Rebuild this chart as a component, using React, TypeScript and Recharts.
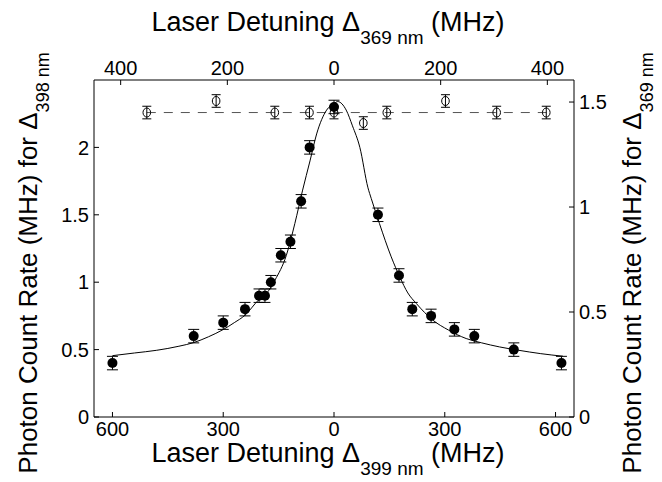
import React from 'react';
import { ComposedChart, Line, Scatter, XAxis, YAxis, ErrorBar } from 'recharts';

// ---- data ----
// fitted curve, bottom axis (Δ399 nm, MHz) vs left axis (MHz)
const fitX = [-600, -540, -480, -420, -380, -340, -300, -270, -241, -205, -183, -160, -129, -106, -85, -65, -47, -20, 0, 10, 33, 50, 70, 92, 101, 123, 155, 178, 200, 223, 268, 310, 358, 400, 448, 500, 560, 620];
const fitY = [0.455, 0.475, 0.495, 0.525, 0.552, 0.595, 0.649, 0.7, 0.755, 0.866, 0.916, 1.015, 1.2, 1.436, 1.683, 1.9, 2.1, 2.277, 2.325, 2.34, 2.277, 2.16, 2.0, 1.7, 1.62, 1.436, 1.188, 1.04, 0.92, 0.842, 0.718, 0.645, 0.582, 0.55, 0.52, 0.495, 0.47, 0.451];

// filled points (Δ398 nm scan)
const filledX = [-600, -380, -300, -241, -203, -187, -171, -144, -118, -89, -66, 0, 119, 176, 212, 263, 326, 380, 487, 616];
const filledY = [0.4, 0.6, 0.7, 0.8, 0.9, 0.9, 1.0, 1.2, 1.3, 1.6, 2.0, 2.3, 1.5, 1.05, 0.8, 0.75, 0.65, 0.6, 0.5, 0.4];
const filledErr = 0.05;

// open points (Δ369 nm scan), top axis vs right axis
const openX = [-351, -221, -111, -46, 0, 55, 99, 209, 305, 398];
const openY = [1.45, 1.505, 1.45, 1.45, 1.45, 1.4, 1.45, 1.505, 1.45, 1.45];
const openErr = 0.03;

// dashed mean line for open points
const meanX = [-351, 398];
const meanY = [1.45, 1.45];

const bottomTicks = [-600, -300, 0, 300, 600];
const topTicks = [-400, -200, 0, 200, 400];
const leftTicks = [0, 0.5, 1, 1.5, 2];
const rightTicks = [0, 0.5, 1, 1.5];

// ---- layout ----
const W = 662;
const H = 482;
const M = { top: 20, right: 20, bottom: 15, left: 20 };
const LEFT_W = 74;
const RIGHT_W = 68;
const TOP_H = 60;
const BOTTOM_H = 50;
const PL = M.left + LEFT_W;
const PR = W - M.right - RIGHT_W;
const PB = H - M.bottom - BOTTOM_H;
const PCX = (PL + PR) / 2;

const FONT = '"Liberation Sans", Arial, Helvetica, sans-serif';
const TITLE_SIZE = 27;
const SUB_SIZE = 19;
const SUB_DY = 13;
const VTITLE_SIZE = 26;
const VSUB_SIZE = 18;

const fitData = fitX.map((x, i) => ({ x, y: fitY[i] }));
const filledData = filledX.map((x, i) => ({ x, y: filledY[i], err: filledErr }));
const openData = openX.map((x, i) => ({ x, y: openY[i], err: openErr }));
const meanData = meanX.map((x, i) => ({ x, y: meanY[i] }));

const abs = (v: number) => String(Math.abs(v));

const tickStyle = { fontFamily: FONT, fontSize: 20, fill: '#000' };

function HTitle(props: any) {
  const { ty, sub } = props;
  return (
    <text x={PCX - 6} y={ty} textAnchor="middle" fontFamily={FONT} fontSize={TITLE_SIZE} fill="#000">
      <tspan>Laser Detuning Δ</tspan>
      <tspan fontSize={SUB_SIZE} dy={SUB_DY}>{sub}</tspan>
      <tspan dy={-SUB_DY}> (MHz)</tspan>
    </text>
  );
}

function VTitle(props: any) {
  const { tx, cy, sub } = props;
  return (
    <text transform={`translate(${tx}, ${cy}) rotate(-90)`} textAnchor="middle" fontFamily={FONT} fontSize={VTITLE_SIZE} fill="#000">
      <tspan>Photon Count Rate (MHz) for Δ</tspan>
      <tspan fontSize={VSUB_SIZE} dy={12}>{sub}</tspan>
    </text>
  );
}

const FilledDot = (p: any) => <circle cx={p.cx} cy={p.cy} r={5} fill="#000" />;
const OpenDot = (p: any) => <ellipse cx={p.cx} cy={p.cy} rx={3.8} ry={4.5} fill="none" stroke="#000" strokeWidth={1} />;

export default function App() {
  return (
    <div style={{ position: 'absolute', left: 0, top: 0, width: W, height: H, background: '#fff' }}>
      <ComposedChart width={W} height={H} margin={M}>
        <XAxis
          xAxisId="b"
          dataKey="x"
          type="number"
          orientation="bottom"
          domain={[-650, 650]}
          ticks={bottomTicks}
          tickFormatter={abs}
          height={BOTTOM_H}
          tickSize={-5}
          tickMargin={10}
          tick={tickStyle}
          axisLine={{ stroke: '#000' }}
          tickLine={{ stroke: '#000' }}
          allowDataOverflow
          label={<HTitle ty={PB + 45} sub="399 nm" />}
        />
        <XAxis
          xAxisId="t"
          dataKey="x"
          type="number"
          orientation="top"
          domain={[-450, 450]}
          ticks={topTicks}
          tickFormatter={abs}
          height={TOP_H}
          tickSize={-5}
          tickMargin={10}
          tick={tickStyle}
          axisLine={{ stroke: '#000' }}
          tickLine={{ stroke: '#000' }}
          allowDataOverflow
          label={<HTitle ty={M.top + 11} sub="369 nm" />}
        />
        <YAxis
          yAxisId="l"
          dataKey="y"
          type="number"
          orientation="left"
          domain={[0, 2.5]}
          ticks={leftTicks}
          width={LEFT_W}
          tickSize={-5}
          tickMargin={10}
          tick={tickStyle}
          axisLine={{ stroke: '#000' }}
          tickLine={{ stroke: '#000' }}
          allowDataOverflow
          label={<VTitle tx={37} cy={263} sub="398 nm" />}
        />
        <YAxis
          yAxisId="r"
          dataKey="y"
          type="number"
          orientation="right"
          domain={[0, 1.605]}
          ticks={rightTicks}
          width={RIGHT_W}
          tickSize={-5}
          tickMargin={10}
          tick={tickStyle}
          axisLine={{ stroke: '#000' }}
          tickLine={{ stroke: '#000' }}
          allowDataOverflow
          label={<VTitle tx={641} cy={263} sub="369 nm" />}
        />
        <Line
          data={meanData}
          xAxisId="t"
          yAxisId="r"
          dataKey="y"
          type="linear"
          stroke="#555"
          strokeWidth={1}
          strokeDasharray="9 8"
          dot={false}
          activeDot={false}
          isAnimationActive={false}
        />
        <Scatter
          data={openData}
          xAxisId="t"
          yAxisId="r"
          dataKey="y"
          shape={OpenDot}
          isAnimationActive={false}
        >
          <ErrorBar dataKey="err" direction="y" width={4.5} stroke="#000" strokeWidth={1} />
        </Scatter>
        <Line
          data={fitData}
          xAxisId="b"
          yAxisId="l"
          dataKey="y"
          type="monotone"
          stroke="#000"
          strokeWidth={1}
          dot={false}
          activeDot={false}
          isAnimationActive={false}
        />
        <Scatter
          data={filledData}
          xAxisId="b"
          yAxisId="l"
          dataKey="y"
          shape={FilledDot}
          isAnimationActive={false}
        >
          <ErrorBar dataKey="err" direction="y" width={5.5} stroke="#000" strokeWidth={1} />
        </Scatter>
      </ComposedChart>
    </div>
  );
}
